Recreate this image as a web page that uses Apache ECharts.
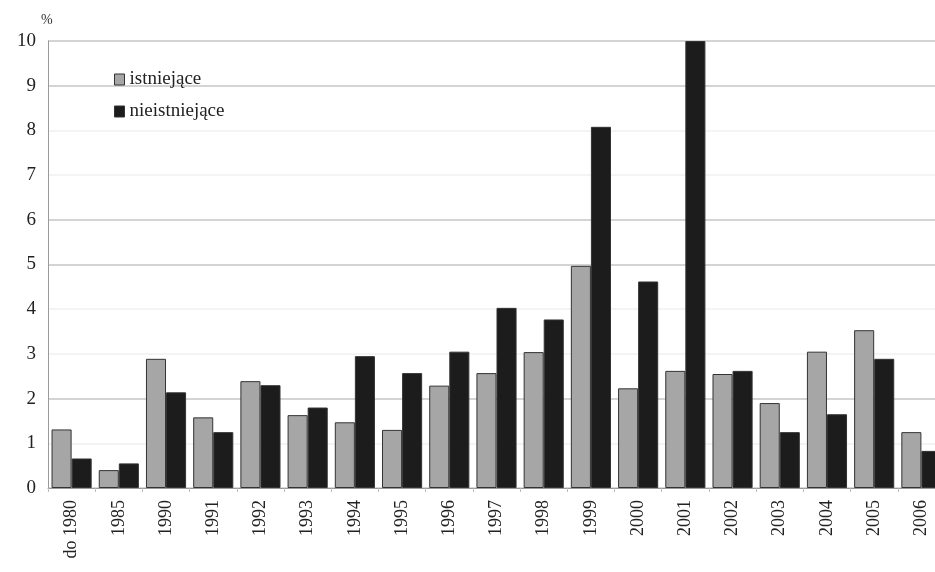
<!DOCTYPE html>
<html>
<head>
<meta charset="utf-8">
<script src="https://cdn.jsdelivr.net/npm/echarts@6/dist/echarts.min.js"></script>
<style>html,body{margin:0;padding:0;background:#fff}#c{width:935px;height:572px}</style>
</head>
<body>
<div id="c"></div>
<script>
const categories = ['do 1980','1985','1990','1991','1992','1993','1994','1995','1996','1997','1998','1999','2000','2001','2002','2003','2004','2005','2006'];
const istniejace = [1.31,0.40,2.89,1.58,2.39,1.63,1.47,1.30,2.29,2.57,3.04,4.97,2.23,2.62,2.55,1.90,3.05,3.53,1.25];
const nieistniejace = [0.66,0.55,2.14,1.25,2.30,1.80,2.95,2.57,3.05,4.03,3.77,8.08,4.62,10.0,2.62,1.25,1.65,2.89,0.83];
const yTicks = [0,1,2,3,4,5,6,7,8,9,10];
const seriesNames = ['istniejące','nieistniejące'];

const font = 'Liberation Serif, Times New Roman, serif';
const chart = echarts.init(document.getElementById('c'), null, {renderer:'canvas'});
chart.setOption({
  backgroundColor:'#ffffff',
  animation:false,
  grid:{left:48, top:41, height:447, width:897, containLabel:false, outerBoundsMode:'none'},
  legend:{
    orient:'vertical', left:114, top:70, itemGap:13, padding:0, icon:'rect',
    itemWidth:10, itemHeight:11, itemStyle:{borderColor:'#333', borderWidth:1},
    textStyle:{fontFamily:font, fontSize:19, color:'#222'},
    data:seriesNames
  },
  xAxis:{
    type:'category', data:categories,
    axisLine:{lineStyle:{color:'#9a9a9a', width:1}},
    axisTick:{show:true, length:4, lineStyle:{color:'#bbb'}},
    axisLabel:{rotate:90, margin:12, fontFamily:font, fontSize:18, color:'#222', interval:0}
  },
  yAxis:{
    type:'value', min:yTicks[0], max:yTicks[yTicks.length-1], interval:1,
    name:'%', nameLocation:'end', nameGap:14,
    nameTextStyle:{fontFamily:font, fontSize:14, color:'#333', align:'left', padding:[0,0,0,-7]},
    axisLine:{show:true, lineStyle:{color:'#9a9a9a'}},
    axisTick:{show:false},
    axisLabel:{margin:12, fontFamily:font, fontSize:19, color:'#222'},
    splitLine:{show:true, lineStyle:{width:1.5, color:['#cccccc','#f1f1f1','#c6c6c6','#f0f0f0','#f0f0f0','#c6c6c6','#c6c6c6','#f1f1f1','#f1f1f1','#c6c6c6','#c6c6c6']}}
  },
  series:[
    {name:seriesNames[0], type:'bar', data:istniejace, barGap:'0%', barCategoryGap:'15%',
     itemStyle:{color:'#a6a6a6', borderColor:'#333', borderWidth:1}},
    {name:seriesNames[1], type:'bar', data:nieistniejace, barGap:'0%', barCategoryGap:'15%',
     itemStyle:{color:'#1c1c1c', borderColor:'#333', borderWidth:1}}
  ]
});
</script>
</body>
</html>
